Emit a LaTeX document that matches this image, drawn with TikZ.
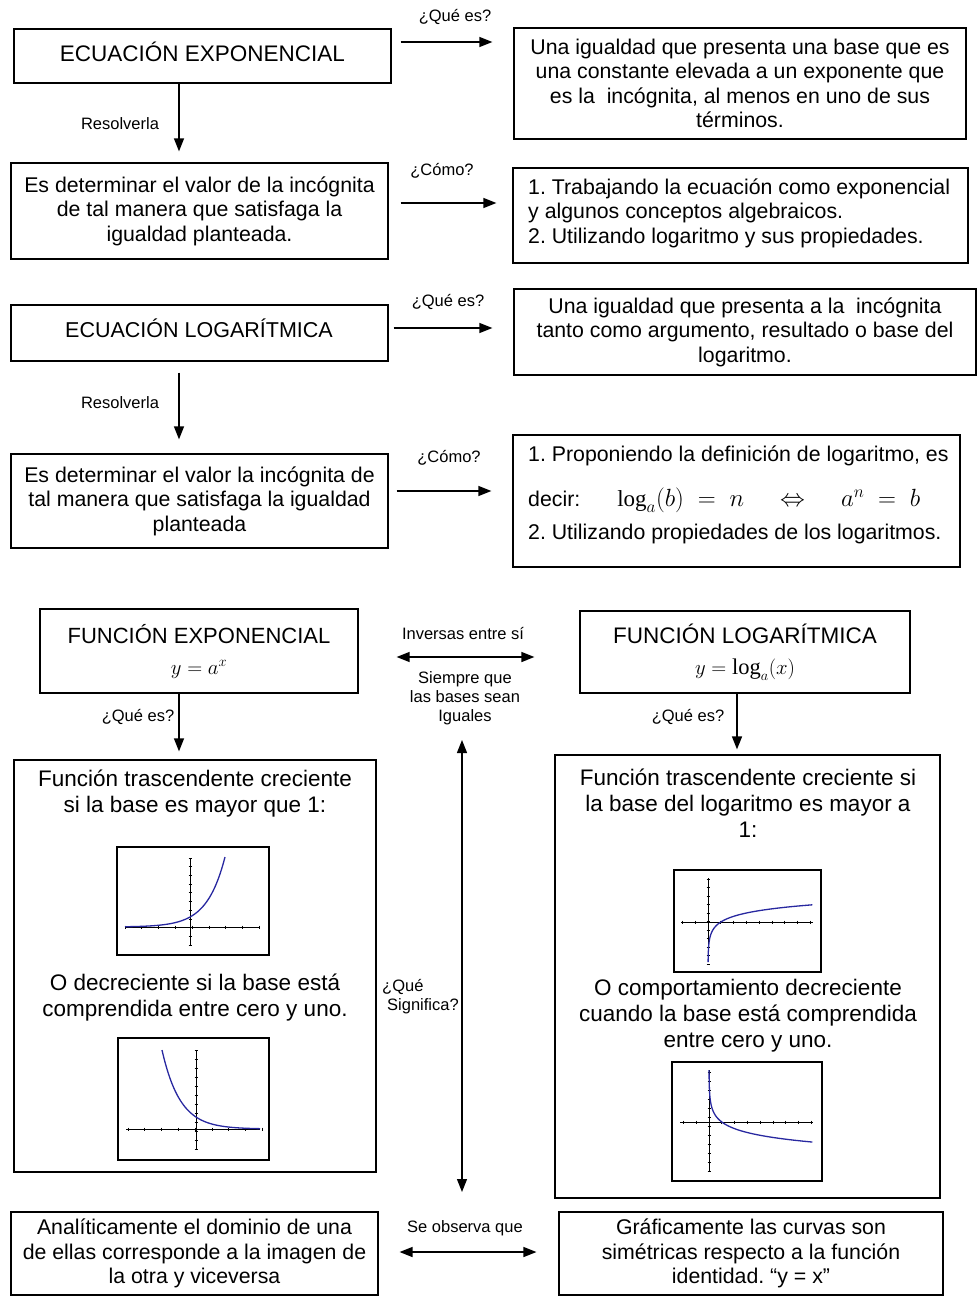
\documentclass[tikz,border=0pt]{standalone}
\usepackage{fontspec}
\setmainfont{Liberation Sans}
\setmathrm{Liberation Serif}
\usetikzlibrary{arrows.meta}
\definecolor{curvecol}{RGB}{40,40,160}
\begin{document}
\frenchspacing
\begin{tikzpicture}[x=1pt,y=-1pt,
  box/.style={draw, line width=1.2pt, inner sep=0pt, align=center, font=\fontsize{21.3}{24.5}\selectfont},
  txt/.style={inner sep=0pt, align=center, font=\fontsize{22.5}{26}\selectfont},
  lbl/.style={inner sep=0pt, align=center, font=\fontsize{16.5}{19}\selectfont},
  arr/.style={-{Triangle[length=13pt,width=10pt]}, line width=1.3pt},
  darr/.style={{Triangle[length=13pt,width=10pt]}-{Triangle[length=13pt,width=10pt]}, line width=1.3pt},
  gframe/.style={line width=1.4pt},
  axis/.style={line width=1pt},
  tick/.style={line width=0.8pt},
  curve/.style={draw=curvecol, line width=1.3pt}]
\useasboundingbox (0,0) rectangle (979,1296);

% ---------- Ecuacion exponencial ----------
\node[box, minimum width=377pt, minimum height=54pt] (A) at (202.5,56) {};
\node[txt] (At) at (202.5,52) {ECUACIÓN EXPONENCIAL};
\node[box, minimum width=452pt, minimum height=111pt] (B) at (740,83.5) {Una igualdad que presenta una base que es\\una constante elevada a un exponente que\\es la \ incógnita, al menos en uno de sus\\términos.};
\node[box, minimum width=377pt, minimum height=96pt] (C) at (199.5,211) {Es determinar el valor de la incógnita\\de tal manera que satisfaga la\\igualdad planteada.};
\node[box, minimum width=455pt, minimum height=95pt] (D) at (740.5,215.5) {};
\node[inner sep=0pt, anchor=west, align=left, font=\fontsize{21.3}{24.5}\selectfont] (Dt) at (528,213) {1. Trabajando la ecuación como exponencial\\y algunos conceptos algebraicos.\\2. Utilizando logaritmo y sus propiedades.};

\draw[arr, shorten <=9pt, shorten >=21pt] (A.east |- 0,42) -- (B.west |- 0,42);
\node[lbl] (qA) at (455,17) {¿Qué es?};
\draw[arr, shorten >=11pt] (A.south -| 179,0) -- (C.north -| 179,0);
\node[lbl] (rA) at (120,124) {Resolverla};
\draw[arr, shorten <=12pt, shorten >=16pt] (C.east |- 0,203) -- (D.west |- 0,203);
\node[lbl] (cA) at (442,171) {¿Cómo?};

% ---------- Ecuacion logaritmica ----------
\node[box, minimum width=377pt, minimum height=56pt] (E) at (199.5,333) {};
\node[txt, font=\fontsize{21.5}{26}\selectfont] (Et) at (199,328) {ECUACIÓN LOGARÍTMICA};
\node[box, minimum width=462pt, minimum height=86pt] (F) at (745,332) {Una igualdad que presenta a la \ incógnita\\tanto como argumento, resultado o base del\\logaritmo.};
\node[box, minimum width=377pt, minimum height=94pt] (G) at (199.5,501) {Es determinar el valor la incógnita de\\tal manera que satisfaga la igualdad\\planteada};
\node[box, minimum width=447pt, minimum height=132pt] (H) at (736.5,501) {};
\node[inner sep=0pt, anchor=west, font=\fontsize{21.3}{24.5}\selectfont] (H1) at (528,456) {1. Proponiendo la definición de logaritmo, es};
\node[inner sep=0pt, anchor=west, font=\fontsize{21.3}{24.5}\selectfont] (H2) at (528,500) {decir:\hspace{37pt}{\fontsize{23}{26}\selectfont$\log_{a}(b)\;=\;n$\hspace{36pt}$\Leftrightarrow$\hspace{36pt}$a^{n}\;=\;b$}};
\node[inner sep=0pt, anchor=west, font=\fontsize{21.3}{24.5}\selectfont] (H3) at (528,534) {2.\ Utilizando propiedades de los logaritmos.};

\draw[arr, shorten <=5pt, shorten >=21pt] (E.east |- 0,328) -- (F.west |- 0,328);
\node[lbl] (qE) at (448,302) {¿Qué es?};
\draw[arr, shorten <=11pt, shorten >=14pt] (E.south -| 179,0) -- (G.north -| 179,0);
\node[lbl] (rE) at (120,403) {Resolverla};
\draw[arr, shorten <=8pt, shorten >=21pt] (G.east |- 0,491) -- (H.west |- 0,491);
\node[lbl] (cE) at (449,458) {¿Cómo?};

% ---------- Funciones ----------
\node[box, minimum width=318pt, minimum height=84pt, font=\fontsize{22}{31}\selectfont] (I) at (199,651) {FUNCIÓN EXPONENCIAL\\$y=a^{x}$};
\node[box, minimum width=330pt, minimum height=82pt, font=\fontsize{22.5}{31}\selectfont] (J) at (745,652) {FUNCIÓN LOGARÍTMICA\\$y=\log_{a}(x)$};
\draw[darr, shorten <=38pt, shorten >=45pt] (I.east |- 0,657) -- (J.west |- 0,657);
\node[lbl] (inv) at (463,633) {Inversas entre sí};
\node[lbl] (sie) at (465,698) {Siempre que\\las bases sean\\Iguales};

\node[box, minimum width=362pt, minimum height=412pt] (K) at (195,966) {};
\node[box, minimum width=385pt, minimum height=443pt] (L) at (747.5,976.5) {};
\draw[arr, shorten >=8pt] (I.south -| 179,0) -- (K.north -| 179,0);
\node[lbl] (qI) at (138,717) {¿Qué es?};
\draw[arr, shorten >=5pt] (J.south -| 737,0) -- (L.north -| 737,0);
\node[lbl] (qJ) at (688,717) {¿Qué es?};

\node[txt] (K1) at (195,794) {Función trascendente creciente\\si la base es mayor que 1:};
\node[txt] (K2) at (195,998) {O decreciente si la base está\\comprendida entre cero y uno.};
\node[txt] (L1) at (748,803) {Función trascendente creciente si\\la base del logaritmo es mayor a\\1:};
\node[txt] (L2) at (748,1016) {O comportamiento decreciente\\cuando la base está comprendida\\entre cero y uno.};

\coordinate (va) at (462,740);
\coordinate (vb) at (462,1192);
\draw[darr] (va) -- (vb);
\node[lbl, anchor=west, align=left] (sig) at (382,997) {¿Qué\\\hspace*{5pt}Significa?};

% graph K1 (exponential increasing)
\draw[gframe] (117,847) rectangle (269,955);
\draw[axis] (125,927) -- (260,927);
\draw[axis] (190,858) -- (190,945);
\foreach \k in {0,...,8} \draw[tick] ({125+16.8*\k},925.5) -- ++(0,3);
\foreach \k in {0,...,10} \draw[tick] (188.5,{858+8.7*\k}) -- ++(3,0);
\draw[curve] plot[domain=125:225,samples=60] (\x,{927-10*exp(0.0556*(\x-190))});

% graph K2 (exponential decreasing)
\draw[gframe] (118,1038) rectangle (269,1160);
\draw[axis] (126,1129) -- (260,1129);
\draw[axis] (196,1050) -- (196,1150);
\foreach \k in {0,...,8} \draw[tick] ({128+16.8*\k},1127.5) -- ++(0,3);
\foreach \k in {0,...,11} \draw[tick] (194.5,{1050+9*\k}) -- ++(3,0);
\draw[curve] plot[domain=162:260,samples=60] (\x,{1129-12*exp(-0.0554*(\x-196))});

% graph L1 (log increasing)
\draw[gframe] (674,870) rectangle (821,972);
\draw[axis] (681,922) -- (813,922);
\draw[axis] (708,878) -- (708,962);
\foreach \k in {0,...,10} \draw[tick] ({682.4+12.8*\k},920.5) -- ++(0,3);
\foreach \k in {0,...,10} \draw[tick] (706.5,{879+8.5*\k}) -- ++(3,0);
\draw[curve] plot[domain=-4.9:2.1,samples=80] ({708+12.8*exp(\x)},{922-8.2*\x});

% graph L2 (log decreasing)
\draw[gframe] (672,1062) rectangle (822,1181);
\draw[axis] (680,1122) -- (813,1122);
\draw[axis] (709,1070) -- (709,1172);
\foreach \k in {0,...,10} \draw[tick] ({683.4+12.8*\k},1120.5) -- ++(0,3);
\foreach \k in {0,...,11} \draw[tick] (707.5,{1072+9*\k}) -- ++(3,0);
\draw[curve] plot[domain=-5.4:2.09,samples=80] ({709+12.8*exp(\x)},{1122+9.6*\x});

% ---------- bottom ----------
\node[box, minimum width=367pt, minimum height=83pt] (M) at (194.5,1253.5) {Analíticamente el dominio de una\\de ellas corresponde a la imagen de\\la otra y viceversa};
\node[box, minimum width=384pt, minimum height=83pt] (N) at (751,1253.5) {Gráficamente las curvas son\\simétricas respecto a la función\\identidad. “y = x”};
\draw[darr, shorten <=21pt, shorten >=22pt] (M.east |- 0,1252) -- (N.west |- 0,1252);
\node[lbl] (obs) at (465,1228) {Se observa que};
\end{tikzpicture}
\end{document}
